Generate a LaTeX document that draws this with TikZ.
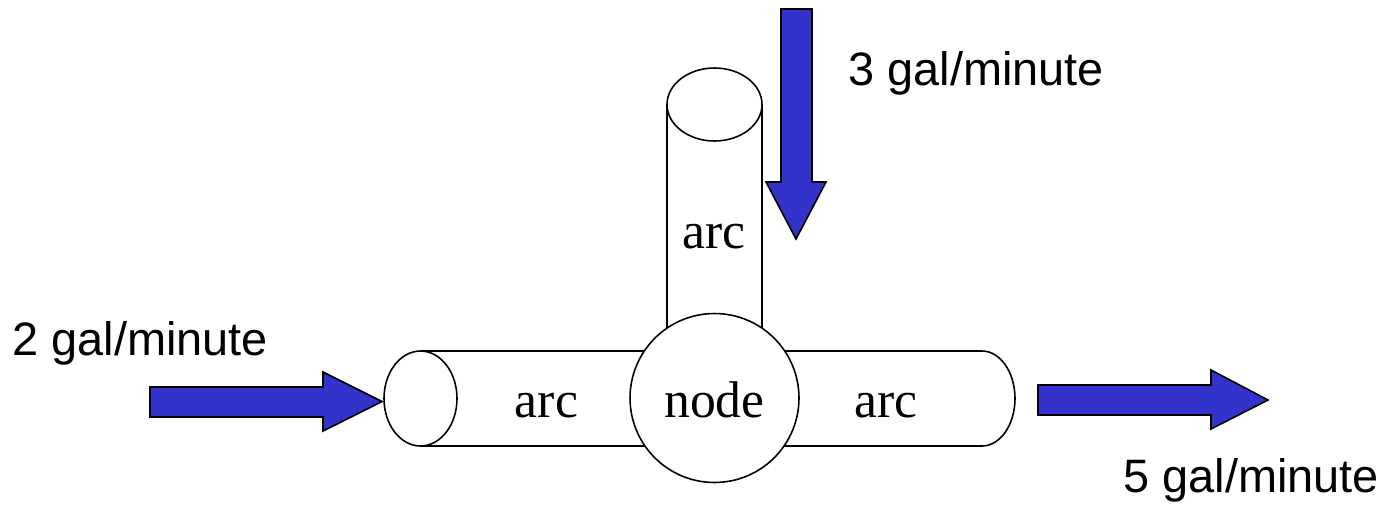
\documentclass[tikz,border=0pt]{standalone}
\usepackage{fontspec}
\setmainfont{Liberation Serif}
\newfontfamily\labelfont{Liberation Sans}
\definecolor{flowblue}{RGB}{51,51,204}
\tikzset{
    pipe/.style={draw=black, fill=white, line width=0.9pt},
    flow/.style={draw=black, fill=flowblue, line width=0.9pt},
    rate/.style={anchor=base west, inner sep=0pt, font=\labelfont\fontsize{26.7}{32}\selectfont},
    pipetext/.style={anchor=base, inner sep=0pt, font=\fontsize{29.4}{34}\selectfont}
}
\begin{document}
\begin{tikzpicture}[x=0.02cm, y=-0.02cm]
        \useasboundingbox (0,0) rectangle (1388,504);
        % left arc
        \fill[white] (420,351) rectangle (714,446);
        \draw[line width=0.9pt] (420,351) -- (714,351) (420,446) -- (714,446);
        \draw[pipe] (420.5,398.5) ellipse [x radius=36.5, y radius=47.5];
        % right arc
        \draw[pipe] (714,351) -- (982,351) arc [start angle=-90, end angle=90, x radius=33, y radius=47.5] -- (714,446);
        % upper arc
        \fill[white] (667,104.5) rectangle (762,398);
        \draw[line width=0.9pt] (667,104.5) -- (667,398) (762,104.5) -- (762,398);
        \draw[pipe] (714.5,104.5) ellipse [x radius=47.5, y radius=36.5];
        % the node
        \node[pipe, circle, minimum size=3.38cm, inner sep=0pt, font=\fontsize{29.4}{34}\selectfont] (hub) at (714.5,398) {};
        \node[pipetext] (hubtext) at (714.5,417) {node};
        \node[pipetext] (arcleft) at (546.5,417) {arc};
        \node[pipetext] (arcright) at (886,417) {arc};
        \node[pipetext] (arcup) at (714,248) {arc};
        % flows
        \draw[flow] (150,387) -- (323,387) -- (323,372) -- (382,401.5) -- (323,431) -- (323,417) -- (150,417) -- cycle;
        \draw[flow] (1038,385) -- (1211,385) -- (1211,370) -- (1268,400) -- (1211,429) -- (1211,415) -- (1038,415) -- cycle;
        \draw[flow] (781,9) -- (812,9) -- (812,182) -- (826,182) -- (796,239) -- (766,182) -- (781,182) -- cycle;
        \node[rate] (inleft) at (12,355) {2 gal/minute};
        \node[rate] (intop) at (848,85) {3 gal/minute};
        \node[rate] (outright) at (1123,492) {5 gal/minute};
    \end{tikzpicture}
\end{document}
